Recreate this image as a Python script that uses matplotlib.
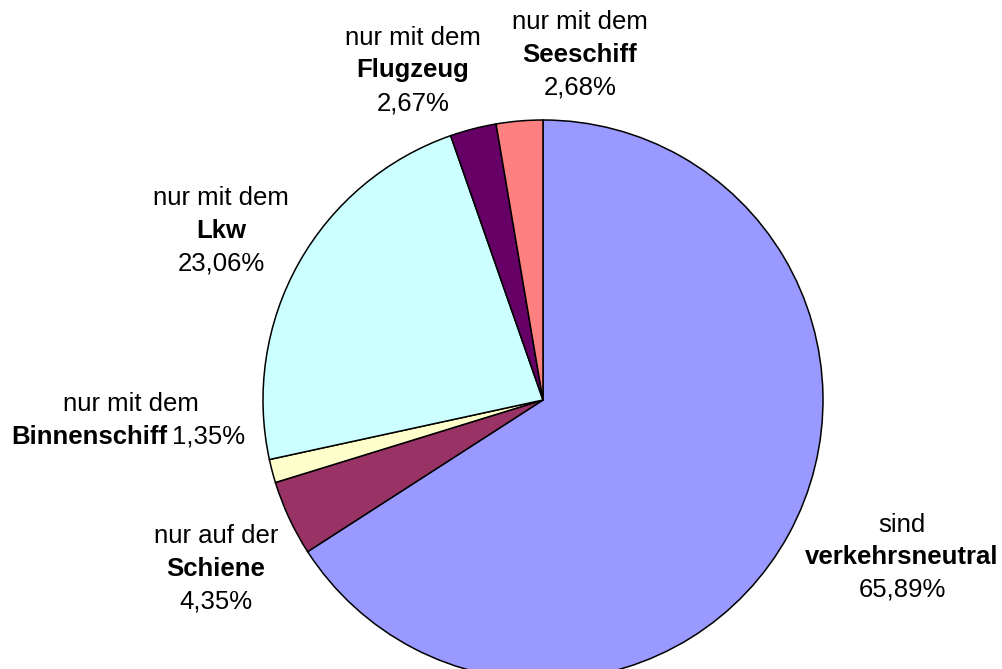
import matplotlib.pyplot as plt

# Anteile (im Uhrzeigersinn ab 12 Uhr)
categories = ["verkehrsneutral", "Schiene", "Binnenschiff", "Lkw", "Flugzeug", "Seeschiff"]
shares = [65.89, 4.35, 1.35, 23.06, 2.67, 2.68]
intro = ["sind", "nur auf der", "nur mit dem", "nur mit dem", "nur mit dem", "nur mit dem"]
pct_labels = ["65,89%", "4,35%", "1,35%", "23,06%", "2,67%", "2,68%"]
colors = ["#9999FF", "#993366", "#FFFFCC", "#CCFFFF", "#660066", "#FF8080"]

W, H = 1003, 669
cx, cy, R = 543, 400, 280

fig = plt.figure(figsize=(W / 100, H / 100), dpi=100)
ax = fig.add_axes([0, 0, 1, 1])

ax.pie(shares, colors=colors, startangle=90, counterclock=False, radius=1,
       wedgeprops=dict(edgecolor="black", linewidth=1.1), frame=False)
ax.set_xlim(-cx / R, (W - cx) / R)
ax.set_ylim((cy - H) / R, cy / R)
ax.set_aspect("auto")
ax.axis("off")


def px(x, y):
    return (x - cx) / R, (cy - y) / R


font = dict(family=["Liberation Sans", "DejaVu Sans"], fontsize=18.5, color="black")

# label anchor (pixel centre of the first line)
label_pos = [(902, 525), (216, 536), (131, 404), (221, 198), (413, 38), (580, 22)]
step = 32.5

for name, first, pct, (lx, ly) in zip(categories, intro, pct_labels, label_pos):
    ax.text(*px(lx, ly), first, ha="center", va="center", **font)
    if name == "Binnenschiff":
        ax.text(*px(167, ly + step), name, ha="right", va="center", fontweight="bold", **font)
        ax.text(*px(172, ly + step), pct, ha="left", va="center", **font)
    else:
        ax.text(*px(lx, ly + step), name, ha="center", va="center", fontweight="bold", **font)
        ax.text(*px(lx, ly + 2 * step), pct, ha="center", va="center", **font)

fig.savefig("out.png", dpi=100)
